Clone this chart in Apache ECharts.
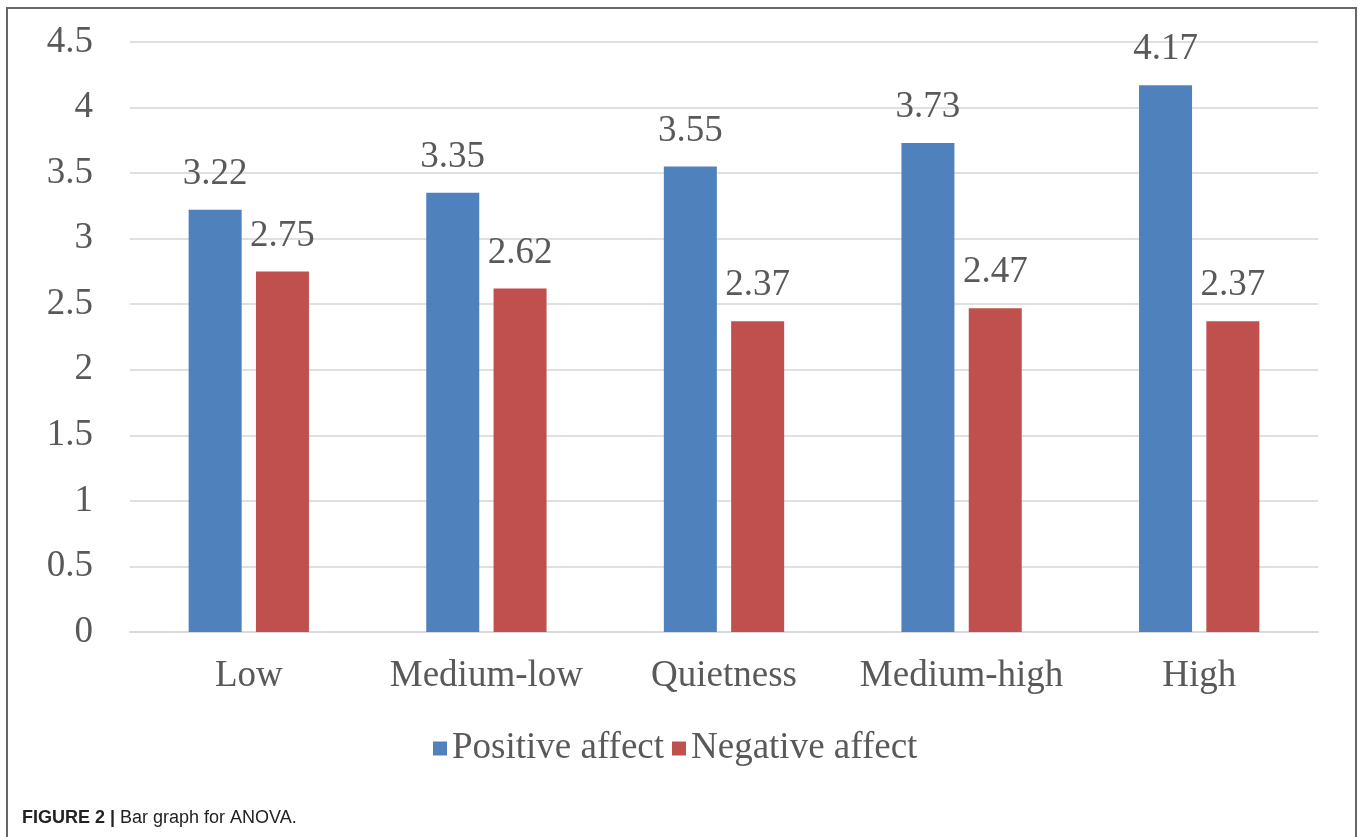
<!DOCTYPE html>
<html>
<head>
<meta charset="utf-8">
<title>Bar graph for ANOVA</title>
<script src="https://cdn.jsdelivr.net/npm/echarts@6/dist/echarts.min.js"></script>
<style>
html, body { margin: 0; padding: 0; background: #fff; }
#frame {
    position: absolute; left: 6px; top: 7px; width: 1347px; height: 900px;
    border: 2px solid #666; border-bottom: none;
}
#main { position: absolute; left: 0; top: 0; width: 1358px; height: 837px; }
</style>
</head>
<body>
<div id="frame"></div>
<div id="main"></div>
<script>
// 数据
var categories = ['Low', 'Medium-low', 'Quietness', 'Medium-high', 'High'];
var positive = [3.22, 3.35, 3.55, 3.73, 4.17];
var negative = [2.75, 2.62, 2.37, 2.47, 2.37];
var seriesNames = ['Positive affect', 'Negative affect'];

var serif = 'Liberation Serif';
var textColor = '#595959';
var fs = 37;

var myChart = echarts.init(document.getElementById('main'));

var option = {
    backgroundColor: 'transparent',
    animation: false,
    title: {
        left: 17,
        top: 804,
        text: '{b|FIGURE 2 |} {n|Bar graph for ANOVA.}',
        textStyle: {
            fontWeight: 'normal',
            rich: {
                b: { fontFamily: 'Liberation Sans', fontSize: 18, fontWeight: 'bold', color: '#222' },
                n: { fontFamily: 'Liberation Sans', fontSize: 18, fontWeight: 'normal', color: '#222' }
            }
        }
    },
    grid: {
        left: 130,
        right: 40,
        top: 42,
        bottom: 205
    },
    legend: {
        data: seriesNames,
        left: 428,
        top: 725,
        icon: 'rect',
        itemWidth: 14,
        itemHeight: 14,
        itemGap: 8,
        textStyle: { fontFamily: serif, fontSize: fs, color: textColor }
    },
    xAxis: {
        type: 'category',
        data: categories,
        axisTick: { show: false },
        axisLine: { lineStyle: { color: '#d9d9d9', width: 2 } },
        axisLabel: { interval: 0, fontFamily: serif, fontSize: fs, color: textColor, margin: 26 }
    },
    yAxis: {
        type: 'value',
        min: 0,
        max: 4.5,
        interval: 0.5,
        axisLine: { show: false },
        axisTick: { show: false },
        splitLine: { lineStyle: { color: '#e0e0e0', width: 2 } },
        axisLabel: { fontFamily: serif, fontSize: fs, color: textColor, margin: 37 }
    },
    series: [{
        name: seriesNames[0],
        type: 'bar',
        barWidth: 53,
        barGap: '27%',
        itemStyle: { color: '#4F81BD' },
        label: { show: true, position: 'top', distance: 17, fontFamily: serif, fontSize: fs, color: textColor },
        data: positive
    }, {
        name: seriesNames[1],
        type: 'bar',
        barWidth: 53,
        itemStyle: { color: '#C0504D' },
        label: { show: true, position: 'top', distance: 17, fontFamily: serif, fontSize: fs, color: textColor },
        data: negative
    }]
};
myChart.setOption(option);
</script>
</body>
</html>
